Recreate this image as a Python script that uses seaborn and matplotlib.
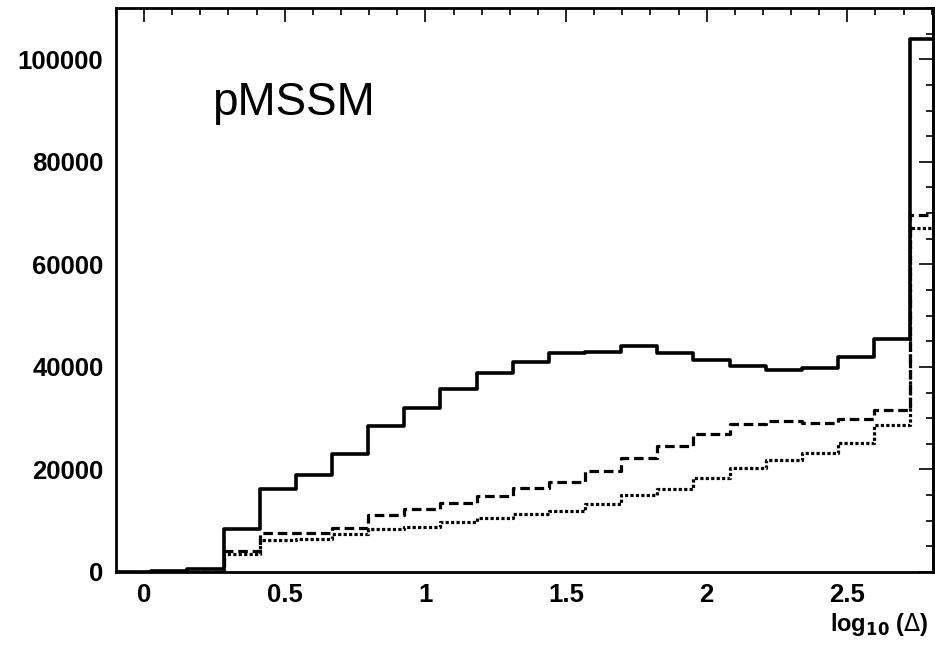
import numpy as np
import pandas as pd
import seaborn as sns
import matplotlib
matplotlib.use("Agg")
import matplotlib.pyplot as plt
from matplotlib.ticker import MultipleLocator

# bin edges of log10(Delta) histogram (width ~0.1285)
bin_lo = -0.103
bin_w = 0.1285
n_bins = 23

# counts per bin
solid = [0, 100, 600, 8300, 16200, 19000, 23000, 28400, 32000, 35700, 38800, 41000,
         42700, 43000, 44100, 42700, 41300, 40200, 39400, 39800, 41900, 45500, 104000]
dashed = [0, 0, 0, 4100, 7600, 7650, 8500, 11100, 12200, 13500, 14900, 16300,
          17600, 19600, 22300, 24500, 26900, 28900, 29400, 29000, 29800, 31500, 69700]
dotted = [0, 0, 0, 3500, 6300, 6350, 7500, 8300, 8850, 9800, 10500, 11300,
          11800, 13300, 15000, 16200, 18250, 20300, 21800, 23300, 25200, 28600, 67100]

xtick_vals = [0, 0.5, 1, 1.5, 2, 2.5]
xtick_labels = ["0", "0.5", "1", "1.5", "2", "2.5"]
ytick_vals = [0, 20000, 40000, 60000, 80000, 100000]
ytick_labels = ["0", "20000", "40000", "60000", "80000", "100000"]

edges = (bin_lo + bin_w * np.arange(n_bins + 1)).tolist()
centers = [0.5 * (a + b) for a, b in zip(edges[:-1], edges[1:])]

df = pd.DataFrame({"x": centers * 3,
                   "w": solid + dashed + dotted,
                   "kind": ["solid"] * n_bins + ["dashed"] * n_bins + ["dotted"] * n_bins})

sns.set_style("white")
plt.rcParams["font.family"] = ["Liberation Sans", "DejaVu Sans"]
plt.rcParams.update({"text.color": "black", "axes.labelcolor": "black",
                     "xtick.color": "black", "ytick.color": "black"})

fig = plt.figure(figsize=(9.35, 6.51), dpi=100)
ax = fig.add_axes([0.124, 0.1214, 0.874, 0.8663])

styles = {"solid": dict(lw=2.6, ls="-"),
          "dashed": dict(lw=2.3, ls=(0, (3, 1.5))),
          "dotted": dict(lw=2.3, ls=(0, (1, 0.7)))}
for kind in ["dotted", "dashed", "solid"]:
    sub = df[df["kind"] == kind]
    sns.histplot(data=sub, x="x", weights="w", bins=edges, element="step", fill=False,
                 color="black", linewidth=styles[kind]["lw"], linestyle=styles[kind]["ls"], ax=ax)

ax.set_xlim(-0.1, 2.805)
ax.set_ylim(0, 110000)
ax.xaxis.set_minor_locator(MultipleLocator(0.1))
ax.yaxis.set_minor_locator(MultipleLocator(5000))
ax.set_xticks(xtick_vals)
ax.set_xticklabels(xtick_labels)
ax.set_yticks(ytick_vals)
ax.set_yticklabels(ytick_labels)
ax.tick_params(which="both", direction="in", top=True, right=False, width=1.2)
ax.tick_params(which="major", axis="x", length=10, labelsize=18.5, pad=8)
ax.tick_params(which="minor", axis="x", length=5)
ax.tick_params(which="major", axis="y", length=17, labelsize=18.5, pad=9)
ax.tick_params(which="minor", axis="y", length=8.5)
for lab in ax.get_xticklabels() + ax.get_yticklabels():
    lab.set_fontweight("bold")
for sp in ax.spines.values():
    sp.set_linewidth(2)
    sp.set_color("black")

# shorter ticks on the right frame
rax = ax.secondary_yaxis("right")
rax.set_yticks(ytick_vals)
rax.yaxis.set_minor_locator(MultipleLocator(5000))
rax.tick_params(which="both", direction="in", labelright=False, width=1.2)
rax.tick_params(which="major", length=10)
rax.tick_params(which="minor", length=5)
rax.spines["right"].set_linewidth(2)

ax.set_ylabel("")
ax.set_xlabel(r"log$_{\mathbf{10}}$ ($\Delta$)", fontsize=17, fontweight="bold")
ax.xaxis.set_label_coords(0.995, -0.07)
ax.xaxis.label.set_horizontalalignment("right")

ax.text(0.1175, 0.87, "pMSSM", transform=ax.transAxes, fontsize=33, va="top", ha="left",
        color="black")

fig.savefig("out.png", dpi=100)
